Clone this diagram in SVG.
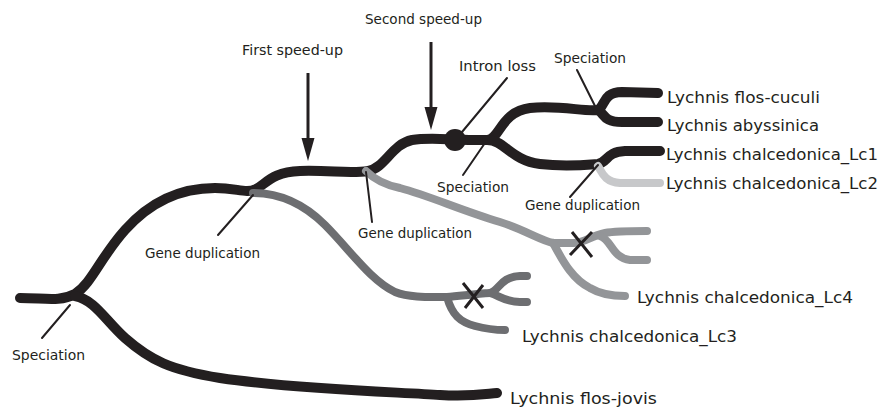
<svg xmlns="http://www.w3.org/2000/svg" width="887" height="409" viewBox="0 0 887 409">
<style>
.br{fill:none;stroke-linecap:round;stroke-linejoin:round}
.blk{stroke:#231f20;stroke-width:10}
.g1{stroke:#6d6e71;stroke-width:8}
.g2{stroke:#939598;stroke-width:8}
.g3{stroke:#c7c8ca;stroke-width:8}
.ld{fill:none;stroke:#231f20;stroke-width:2;stroke-linecap:round}
.x{fill:none;stroke:#231f20;stroke-width:3}
.sm{font-family:"DejaVu Sans","Liberation Sans",sans-serif;font-size:14px;fill:#231f20}
.lg{font-family:"DejaVu Sans","Liberation Sans",sans-serif;font-size:16.4px;fill:#231f20}
</style>
<rect width="887" height="409" fill="#fff"/>
<g id="connectors">
  <g id="black-branches">
    <path class="br blk" d="M20,298 C45,298 60,302 75,294 C92,283 100,258 125,230 C150,202 180,188 215,188 C238,188 245,194 256,189 C266,184 272,172 300,171 C330,170 350,174 368,171 C385,168 392,144 412,140 C430,137 445,140 487,140 C500,140 500,112 530,108 C560,105 585,112 598,110 C605,106 603,92 622,92 L658,93"/>
    <path class="br blk" d="M598,110 C605,114 603,122 622,122 L658,122"/>
    <path class="br blk" d="M487,140 C505,140 510,160 540,164 C565,167 585,165 598,164 C608,162 606,152 625,151 L660,151"/>
    <path class="br blk" d="M75,296 C95,300 105,320 125,338 C150,360 170,370 220,378 C300,390 400,392 440,395 C470,397 485,394 497,393"/>
    <circle cx="455" cy="140" r="11" fill="#231f20"/>
  </g>
  <g id="gray-branches">
    <path class="br g1" d="M253,193 C275,193 300,200 325,225 C350,250 370,280 395,292 C410,298 430,297 447,297 C460,296 475,294 490,293 C500,290 500,277 520,276 L527,276"/>
    <path class="br g1" d="M490,293 C500,296 505,302 520,302 L527,302"/>
    <path class="br g1" d="M447,297 C452,315 460,322 475,326 C490,330 500,330 505,330"/>
    <path class="br g2" d="M366,171 C375,180 385,185 400,188 C430,196 460,210 500,222 C525,230 540,240 553,243 L573,243 C585,243 590,236 605,233 C615,231 630,231 647,231"/>
    <path class="br g2" d="M600,236 C612,240 612,258 630,260 L647,260"/>
    <path class="br g2" d="M553,243 C560,255 570,278 590,288 C600,294 612,296 625,296"/>
    <path class="br g3" d="M598,166 C602,172 604,182 620,183 L660,183"/>
  </g>
  <g id="losses">
    <path class="x" d="M463,283 L483,308 M483,285 L465,308"/>
    <path class="x" d="M572,232 L592,257 M592,232 L570,255"/>
  </g>
  <g id="leaders">
    <line class="ld" x1="42" y1="338" x2="70" y2="305"/>
    <line class="ld" x1="218" y1="235" x2="253" y2="195"/>
    <line class="ld" x1="372" y1="222" x2="366" y2="172"/>
    <line class="ld" x1="463" y1="175" x2="487" y2="140"/>
    <line class="ld" x1="507" y1="78" x2="462" y2="132"/>
    <line class="ld" x1="577" y1="70" x2="597" y2="110"/>
    <line class="ld" x1="570" y1="197" x2="598" y2="165"/>
  </g>
  <g id="arrows" fill="#231f20" stroke="#231f20">
    <line x1="308" y1="73" x2="308" y2="140" stroke-width="3"/>
    <polygon points="301.5,138 314.5,138 308,161" stroke="none"/>
    <line x1="431" y1="42" x2="431" y2="109" stroke-width="3"/>
    <polygon points="424.5,107 437.5,107 431,130" stroke="none"/>
  </g>
</g>
<g id="label-second-speedup"><text class="sm" x="365" y="24" textLength="117" lengthAdjust="spacingAndGlyphs">Second speed-up</text></g>
<g id="label-first-speedup"><text class="sm" x="242" y="55" textLength="101" lengthAdjust="spacingAndGlyphs">First speed-up</text></g>
<g id="label-intron-loss"><text class="sm" x="459" y="71" textLength="77" lengthAdjust="spacingAndGlyphs">Intron loss</text></g>
<g id="label-speciation-top"><text class="sm" x="554" y="63" textLength="72" lengthAdjust="spacingAndGlyphs">Speciation</text></g>
<g id="label-speciation-mid"><text class="sm" x="437" y="192" textLength="72" lengthAdjust="spacingAndGlyphs">Speciation</text></g>
<g id="label-speciation-root"><text class="sm" x="12" y="360" textLength="73" lengthAdjust="spacingAndGlyphs">Speciation</text></g>
<g id="label-genedup-right"><text class="sm" x="525" y="210" textLength="115" lengthAdjust="spacingAndGlyphs">Gene duplication</text></g>
<g id="label-genedup-mid"><text class="sm" x="358" y="238" textLength="114" lengthAdjust="spacingAndGlyphs">Gene duplication</text></g>
<g id="label-genedup-left"><text class="sm" x="145" y="258" textLength="115" lengthAdjust="spacingAndGlyphs">Gene duplication</text></g>
<g id="taxon-flos-cuculi"><text class="lg" x="667" y="103" textLength="153" lengthAdjust="spacingAndGlyphs">Lychnis flos-cuculi</text></g>
<g id="taxon-abyssinica"><text class="lg" x="667" y="131" textLength="152" lengthAdjust="spacingAndGlyphs">Lychnis abyssinica</text></g>
<g id="taxon-lc1"><text class="lg" x="666" y="160" textLength="212" lengthAdjust="spacingAndGlyphs">Lychnis chalcedonica_Lc1</text></g>
<g id="taxon-lc2"><text class="lg" x="666" y="189" textLength="212" lengthAdjust="spacingAndGlyphs">Lychnis chalcedonica_Lc2</text></g>
<g id="taxon-lc4"><text class="lg" x="637" y="303" textLength="216" lengthAdjust="spacingAndGlyphs">Lychnis chalcedonica_Lc4</text></g>
<g id="taxon-lc3"><text class="lg" x="522" y="342" textLength="215" lengthAdjust="spacingAndGlyphs">Lychnis chalcedonica_Lc3</text></g>
<g id="taxon-flos-jovis"><text class="lg" x="510" y="404" textLength="147" lengthAdjust="spacingAndGlyphs">Lychnis flos-jovis</text></g>
</svg>
